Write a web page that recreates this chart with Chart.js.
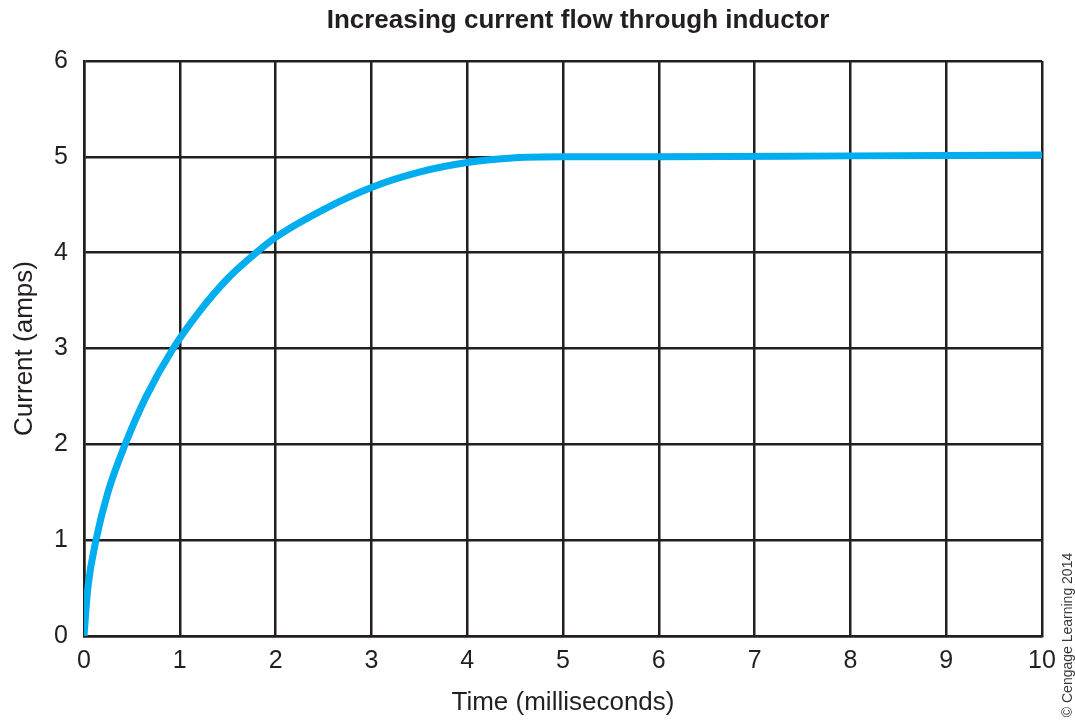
<!DOCTYPE html>
<html>
<head>
<meta charset="utf-8">
<script src="https://cdn.jsdelivr.net/npm/chart.js@4/dist/chart.umd.min.js"></script>
<style>
  html, body { margin: 0; padding: 0; background: #fff; }
  #wrap { width: 1075px; height: 720px; }
</style>
</head>
<body>
<div id="wrap"><canvas id="chart" width="1075" height="720"></canvas></div>
<script>
// time in milliseconds, current in amps
const timeMs  = [0, 0.04, 0.125, 0.25, 0.43, 0.65, 0.93, 1.2, 1.5, 1.75, 2.0, 2.5, 3.0, 3.5, 4.0, 4.5, 5.0, 6.0, 8.0, 10.0];
const current = [0, 0.5, 1.0, 1.5, 2.0, 2.5, 3.0, 3.38, 3.73, 3.96, 4.16, 4.45, 4.68, 4.84, 4.94, 4.99, 5.0, 5.0, 5.01, 5.02];
const xTicks = [0, 1, 2, 3, 4, 5, 6, 7, 8, 9, 10];
const yTicks = [0, 1, 2, 3, 4, 5, 6];

const chartTitle = 'Increasing current flow through inductor';
const xTitle = 'Time (milliseconds)';
const yTitle = 'Current (amps)';
const credit = '\u00A9 Cengage Learning 2014';

const ink = '#231f20';
const font = "'Liberation Sans', Arial, Helvetica, sans-serif";

// title sits a little right of the plot centre, and the credit runs up the right edge
const textPlugin = {
  id: 'texts',
  afterDraw(chart) {
    const ctx = chart.ctx;
    ctx.save();
    ctx.font = "bold 26px " + font;
    ctx.fillStyle = ink;
    ctx.textAlign = 'center';
    ctx.textBaseline = 'alphabetic';
    ctx.fillText(chartTitle, 578, 28);

    ctx.translate(1068, 635);
    ctx.rotate(-Math.PI / 2);
    ctx.font = "14px 'Liberation Sans Narrow', 'Liberation Sans', Arial, sans-serif";
    ctx.fillStyle = '#3a3a3a';
    ctx.textBaseline = 'middle';
    ctx.fillText(credit, 0, 0);
    ctx.restore();
  }
};

new Chart(document.getElementById('chart'), {
  type: 'line',
  data: {
    datasets: [{
      data: timeMs.map((t, i) => ({ x: t, y: current[i] })),
      borderColor: '#00aeef',
      borderWidth: 7,
      borderCapStyle: 'round',
      borderJoinStyle: 'round',
      pointRadius: 0,
      cubicInterpolationMode: 'monotone',
      fill: false
    }]
  },
  options: {
    responsive: false,
    animation: false,
    layout: { padding: { left: 0, right: 33, top: 61, bottom: 0 } },
    plugins: {
      legend: { display: false },
      tooltip: { enabled: false },
      title: { display: false }
    },
    scales: {
      x: {
        type: 'linear',
        min: 0, max: 10,
        afterBuildTicks: s => { s.ticks = xTicks.map(v => ({ value: v })); },
        afterFit: s => { s.height = 84; },
        ticks: { color: ink, padding: 10, font: { family: font, size: 25 }, maxRotation: 0 },
        grid: { color: ink, lineWidth: 2.5, drawTicks: false },
        border: { color: ink, width: 2.5 },
        title: { display: true, text: xTitle, color: ink, font: { family: font, size: 26 }, padding: { top: 0, bottom: 2 } }
      },
      y: {
        type: 'linear',
        min: 0, max: 6,
        afterBuildTicks: s => { s.ticks = yTicks.map(v => ({ value: v })); },
        afterFit: s => { s.width = 84; },
        ticks: { color: ink, padding: 16, font: { family: font, size: 25 } },
        grid: { color: ink, lineWidth: 2.5, drawTicks: false },
        border: { color: ink, width: 2.5 },
        title: { display: true, text: yTitle, color: ink, font: { family: font, size: 26 }, padding: { top: 9, bottom: 0 } }
      }
    }
  },
  plugins: [textPlugin]
});
</script>
</body>
</html>
